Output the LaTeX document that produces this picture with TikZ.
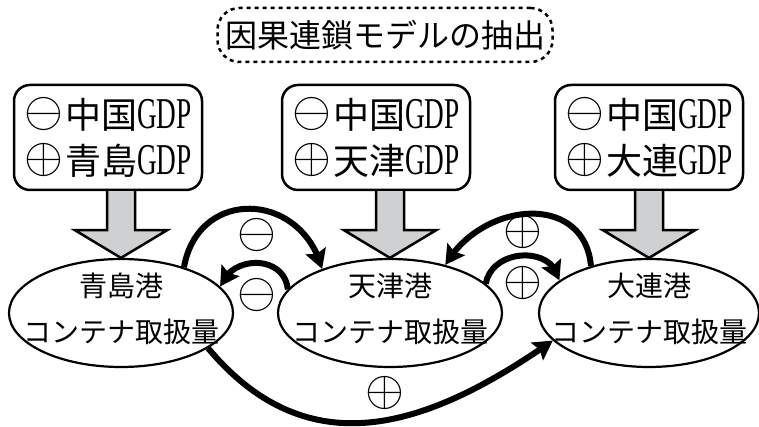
\documentclass[tikz,border=0pt]{standalone}
\usepackage{fontspec}
\usepackage{graphicx}
\usetikzlibrary{shapes.geometric,arrows.meta,bending,calc}
\setmainfont{Liberation Serif}
\newfontfamily\jpfont{Noto Sans CJK JP}
\newcommand\bigsign[1]{\scalebox{5}{\fontsize{10}{10}\selectfont$#1$}}
\newcommand\symb[1]{\raisebox{2pt}{\bigsign{#1}}\hspace{2pt}}
\newcommand\gdp{{\rmfamily\fontsize{44}{44}\selectfont\scalebox{0.62}[1]{GDP}}}
\definecolor{arrowgray}{HTML}{CFD0D2}
\newcommand\gdrop[2]{%
  \draw[garrow] ($(#2.north |- #1.south)+(-14,0)$) -- ++(0,-39) -- ++(-32,0)
    -- (#2.north) -- ($(#2.north |- #1.south)+(46,-39)$) -- ++(-32,0) -- ++(0,39);}
\begin{document}
\begin{tikzpicture}[x=1pt,y=1pt,
  gbox/.style={draw,line width=2.5pt,rounded corners=16pt,minimum width=188pt,
    minimum height=105pt,align=center,inner sep=0pt,
    font=\jpfont\fontsize{36}{46}\selectfont},
  port/.style={ellipse,draw,line width=2.2pt,minimum width=224pt,minimum height=108pt,inner sep=0pt},
  ptext/.style={align=center,inner sep=0pt,font=\jpfont\fontsize{28}{46}\selectfont},
  titlebox/.style={draw,line width=2.5pt,dash pattern=on 4pt off 4pt,rounded corners=22pt,
    minimum width=335pt,minimum height=54pt,inner sep=0pt,font=\jpfont\fontsize{32}{32}\selectfont},
  garrow/.style={draw,line width=2.5pt,fill=arrowgray,line join=miter},
  carrow/.style={line width=6pt,-{Stealth[length=19pt,width=21pt,inset=3pt,flex]}},
  sign/.style={inner sep=0pt}]
\useasboundingbox (0,0) rectangle (759,427);

\node[titlebox] (T) at (385,392) {因果連鎖モデルの抽出};

\node[gbox] (BL) at (108,289.5) {\symb{\ominus}中国\gdp\\\symb{\oplus}青島\gdp};
\node[gbox] (BM) at (376,289.5) {\symb{\ominus}中国\gdp\\\symb{\oplus}天津\gdp};
\node[gbox] (BR) at (649,289.5) {\symb{\ominus}中国\gdp\\\symb{\oplus}大連\gdp};

\node[port] (L) at (121,114) {};
\node[port] (M) at (390,114) {};
\node[port,minimum width=220pt] (R) at (649,114) {};
\node[ptext] (Lt) at ($(L)+(0,4)$) {青島港\\コンテナ取扱量};
\node[ptext] (Mt) at ($(M)+(0,4)$) {天津港\\コンテナ取扱量};
\node[ptext] (Rt) at ($(R)+(0,4)$) {大連港\\コンテナ取扱量};

\gdrop{BL}{L}
\gdrop{BM}{M}
\gdrop{BR}{R}

\draw[carrow] (L.36) to[out=80,in=105,looseness=1.5] (M.147);
\draw[carrow] (M.167) to[out=95,in=70,looseness=1.3] (L.15);
\draw[carrow] (R.141) to[out=95,in=60,looseness=1.3] (M.41);
\draw[carrow] (M.17) to[out=80,in=100,looseness=1.25] (R.160);
\draw[carrow] (L.-22) to[out=-50,in=215,looseness=1.15] (R.196);

\node[sign] (s1) at (257,192) {\bigsign{\ominus}};
\node[sign] (s2) at (257,132) {\bigsign{\ominus}};
\node[sign] (s3) at (523,195) {\bigsign{\oplus}};
\node[sign] (s4) at (523,144) {\bigsign{\oplus}};
\node[sign] (s5) at (385,34) {\bigsign{\oplus}};
\end{tikzpicture}
\end{document}
